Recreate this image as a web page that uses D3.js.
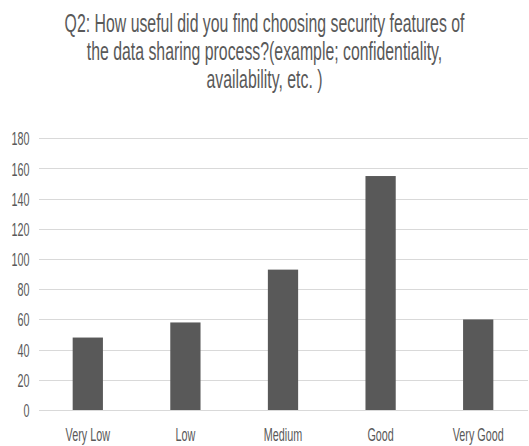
<!DOCTYPE html>
<html>
<head>
<meta charset="utf-8">
<script src="https://cdn.jsdelivr.net/npm/d3@7"></script>
<style>
  html, body { margin: 0; padding: 0; background: #ffffff; }
  svg { display: block; }
  text { font-family: "Liberation Sans", Arial, sans-serif; fill: #595959; }
</style>
</head>
<body>
<svg id="chart" width="529" height="446"></svg>
<script>
// Survey answers for Q2
const categories = ["Very Low", "Low", "Medium", "Good", "Very Good"];
const responses = [48, 58, 93, 155, 60];
const yTicks = [0, 20, 40, 60, 80, 100, 120, 140, 160, 180];
const titleLines = [
  "Q2: How useful did you find choosing security features of",
  "the data sharing process?(example; confidentiality,",
  "availability, etc. )"
];

const W = 529, H = 446;
const plot = { left: 39, right: 527, top: 138.3, bottom: 410 };
const squeeze = 0.6;           // narrow letterforms used throughout the chart
const textColor = "#595959";
const barColor = "#595959";
const gridColor = "#d9d9d9";

const svg = d3.select("#chart");

const x = d3.scaleBand()
  .domain(categories)
  .range([plot.left, plot.right])
  .paddingInner(0.69)
  .paddingOuter(0.345);

const y = d3.scaleLinear()
  .domain([0, 180])
  .range([plot.bottom, plot.top]);

// horizontal gridlines with value labels
const yAxis = d3.axisLeft(y)
  .tickValues(yTicks)
  .tickSize(-(plot.right + 1 - plot.left))
  .tickPadding(0)
  .tickFormat(d3.format("d"));

const yg = svg.append("g")
  .attr("transform", `translate(${plot.left},0)`)
  .call(yAxis);
yg.select(".domain").remove();
yg.selectAll(".tick line")
  .attr("stroke", gridColor)
  .attr("stroke-width", 1)
  .attr("shape-rendering", "crispEdges");
yg.selectAll(".tick text")
  .attr("x", null)
  .attr("dy", null)
  .attr("text-anchor", "end")
  .attr("dominant-baseline", "central")
  .style("font-size", "18px")
  .style("fill", textColor)
  .attr("transform", `translate(-9.5,0.5) scale(${squeeze},1)`);

// bars
svg.append("g")
  .selectAll("rect")
  .data(categories)
  .join("rect")
  .attr("x", d => x(d))
  .attr("width", x.bandwidth())
  .attr("y", (d, i) => y(responses[i]))
  .attr("height", (d, i) => y(0) - y(responses[i]))
  .attr("fill", barColor);

// category labels
svg.append("g")
  .selectAll("text")
  .data(categories)
  .join("text")
  .attr("text-anchor", "middle")
  .style("font-size", "18px")
  .attr("transform", d => `translate(${x(d) + x.bandwidth() / 2},441) scale(${squeeze},1)`)
  .text(d => d);

// title, three centred lines
const title = svg.append("g");
const tl = title.selectAll("text")
  .data(titleLines)
  .join("text")
  .attr("text-anchor", "middle")
  .style("font-size", "25px")
  .text(d => d);
const firstWidth = tl.nodes()[0].getComputedTextLength();
const titleSqueeze = 400 / firstWidth;
tl.attr("transform", (d, i) => `translate(${W / 2},${32 + i * 28}) scale(${titleSqueeze},1)`);
</script>
</body>
</html>
